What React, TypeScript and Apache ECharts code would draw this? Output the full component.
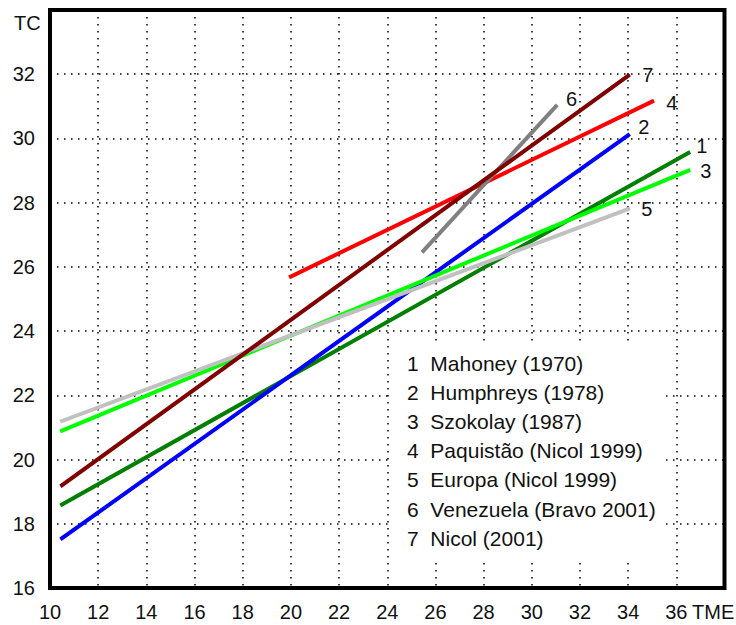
import React, { useEffect, useRef } from "react";
import * as echarts from "echarts";

// Series names (legend entries), numbered 1..7
const SERIES_NAMES = [
  "Mahoney (1970)",
  "Humphreys (1978)",
  "Szokolay (1987)",
  "Paquistão (Nicol 1999)",
  "Europa (Nicol 1999)",
  "Venezuela (Bravo 2001)",
  "Nicol (2001)",
];

// Line end points [TME, TC]
const MAHONEY = [[10.5, 18.6], [36.5, 29.55]];
const HUMPHREYS = [[10.5, 17.55], [34, 30.1]];
const SZOKOLAY = [[10.5, 20.9], [36.5, 29.0]];
const PAQUISTAO = [[20, 25.7], [35, 31.15]];
const EUROPA = [[10.5, 21.2], [34, 27.8]];
const VENEZUELA = [[25.5, 26.5], [31, 31.0]];
const NICOL = [[10.5, 19.2], [34, 31.95]];

const SERIES_DATA = [MAHONEY, HUMPHREYS, SZOKOLAY, PAQUISTAO, EUROPA, VENEZUELA, NICOL];

// Axis ticks
const X_MIN = 10;
const X_MAX = 38;
const Y_MIN = 16;
const Y_MAX = 34;
const TICK_STEP = 2;

const COLORS = ["#007f00", "#0000ff", "#00ff00", "#ff0000", "#c0c0c0", "#808080", "#800000"];
// end label offsets (style only)
const LABEL_OFFSETS = [
  [0, -7],
  [2, -8],
  [4, 0],
  [6, 1],
  [5, 0],
  [2, -7],
  [6, -1],
];

const FONT = "'Liberation Sans', Arial, sans-serif";

export default function App() {
  const ref = useRef<HTMLDivElement>(null);
  useEffect(() => {
    if (!ref.current) return;
    const chart = echarts.init(ref.current, null, { renderer: "svg" });
    const dotted = { color: "#000", width: 1.5, type: [1.5, 5.5] as any };
    chart.setOption({
      animation: false,
      backgroundColor: "#fff",
      textStyle: { fontFamily: FONT },
      grid: {
        left: 50,
        top: 10,
        right: 11.5,
        bottom: 37,
        show: true,
        borderColor: "#000",
        borderWidth: 4,
        backgroundColor: "#fff",
      },
      xAxis: {
        type: "value",
        min: X_MIN,
        max: X_MAX,
        interval: TICK_STEP,
        axisLine: { show: false },
        axisTick: { show: false },
        splitLine: { show: true, lineStyle: dotted },
        axisLabel: {
          margin: 14,
          fontSize: 20,
          color: "#111",
          fontFamily: FONT,
          formatter: (v: number) => (v === X_MAX ? "" : String(v)),
        },
      },
      yAxis: {
        type: "value",
        min: Y_MIN,
        max: Y_MAX,
        interval: TICK_STEP,
        axisLine: { show: false },
        axisTick: { show: false },
        splitLine: { show: true, lineStyle: dotted },
        axisLabel: {
          margin: 15,
          fontSize: 20,
          color: "#111",
          fontFamily: FONT,
          formatter: (v: number) => (v === Y_MAX ? "" : String(v)),
        },
      },
      legend: {
        show: true,
        orient: "vertical",
        left: 390,
        top: 341,
        padding: [11, 10, 10, 12],
        backgroundColor: "#fff",
        icon: "none",
        itemWidth: 0,
        itemHeight: 22,
        itemGap: 7.2,
        selectedMode: false,
        data: SERIES_NAMES,
        formatter: (name: string) => `${SERIES_NAMES.indexOf(name) + 1}  ${name}`,
        textStyle: { fontSize: 21, lineHeight: 22, color: "#111", fontFamily: FONT },
      },
      graphic: [
        {
          type: "text",
          left: 692,
          top: 602,
          style: { text: "TME", fontSize: 20, fill: "#111", fontFamily: FONT },
        },
        {
          type: "text",
          left: 14,
          top: 13,
          style: { text: "TC", fontSize: 20, fill: "#111", fontFamily: FONT },
        },
      ],
      series: SERIES_DATA.map((d, i) => ({
        type: "line",
        name: SERIES_NAMES[i],
        data: d,
        symbol: "none",
        lineStyle: { color: COLORS[i], width: 4, cap: "square" },
        itemStyle: { color: COLORS[i] },
        endLabel: {
          show: true,
          formatter: String(i + 1),
          fontSize: 20,
          color: "#111",
          fontFamily: FONT,
          offset: LABEL_OFFSETS[i],
        },
      })),
    });
    return () => chart.dispose();
  }, []);
  return (
    <div
      ref={ref}
      style={{ position: "absolute", left: 0, top: 0, width: 736, height: 625 }}
    />
  );
}
